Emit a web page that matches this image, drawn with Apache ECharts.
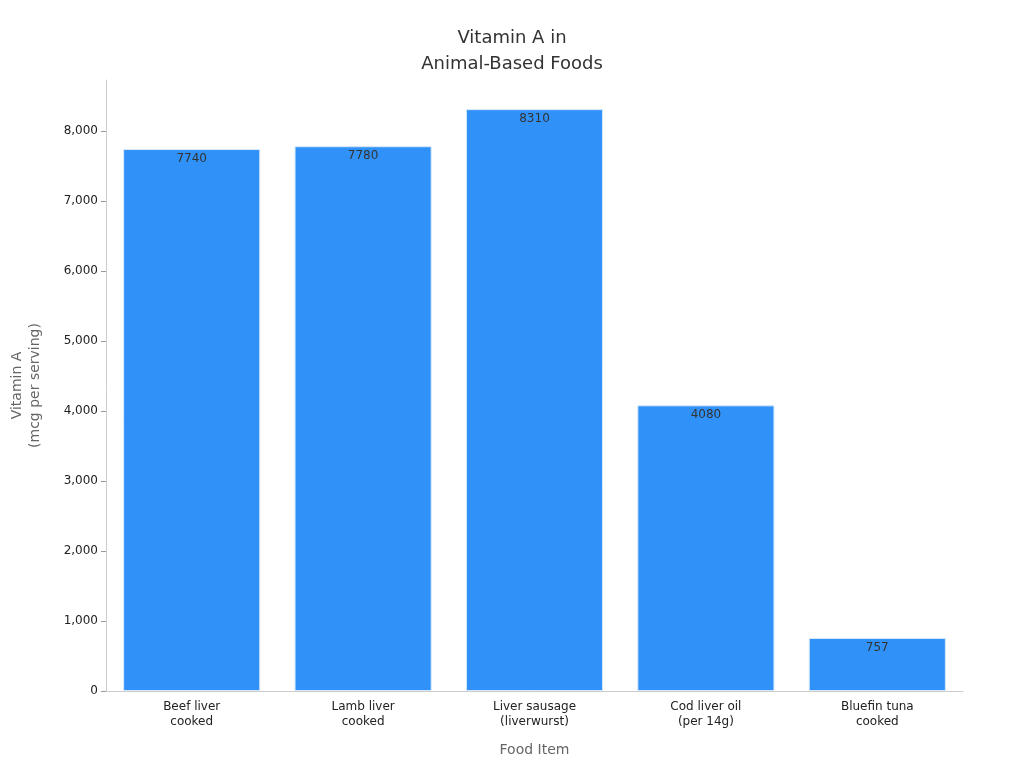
<!DOCTYPE html>
<html>
<head>
<meta charset="utf-8">
<script src="https://cdn.jsdelivr.net/npm/echarts@6/dist/echarts.min.js"></script>
<style>html,body{margin:0;padding:0;background:#fff}#main{width:1024px;height:768px}</style>
</head>
<body>
<div id="main"></div>
<script>
var foods = ['Beef liver\ncooked', 'Lamb liver\ncooked', 'Liver sausage\n(liverwurst)', 'Cod liver oil\n(per 14g)', 'Bluefin tuna\ncooked'];
var vitaminA = [7740, 7780, 8310, 4080, 757];

var chart = echarts.init(document.getElementById('main'));
chart.setOption({
    textStyle: {fontFamily: 'DejaVu Sans'},
    title: {
        text: 'Vitamin A in\nAnimal-Based Foods',
        left: 'center',
        top: 20,
        textStyle: {fontSize: 18, fontWeight: 'normal', color: '#333', lineHeight: 26}
    },
    grid: {left: 95, right: 61, top: 80, bottom: 77},
    xAxis: {
        type: 'category',
        data: foods,
        name: 'Food Item',
        nameLocation: 'middle',
        nameGap: 52,
        nameTextStyle: {color: '#666', fontSize: 14},
        axisLine: {lineStyle: {color: '#ccc'}},
        axisTick: {alignWithLabel: true, lineStyle: {color: '#999'}},
        axisLabel: {color: '#222', fontSize: 12, lineHeight: 15}
    },
    yAxis: {
        type: 'value',
        min: 0,
        max: 8726,
        interval: 1000,
        name: 'Vitamin A\n(mcg per serving)',
        nameLocation: 'middle',
        nameGap: 62,
        nameTextStyle: {color: '#666', fontSize: 14, lineHeight: 18},
        axisLine: {show: true, lineStyle: {color: '#ccc'}},
        axisTick: {show: true, lineStyle: {color: '#999'}},
        splitLine: {show: false},
        axisLabel: {color: '#222', fontSize: 12, showMaxLabel: false}
    },
    series: [{
        type: 'bar',
        data: vitaminA,
        barCategoryGap: '20%',
        itemStyle: {color: '#3092f8', borderColor: '#d6e8fb', borderWidth: 1},
        label: {show: true, position: 'insideTop', color: '#333', fontSize: 12, distance: 4}
    }]
});
</script>
</body>
</html>
